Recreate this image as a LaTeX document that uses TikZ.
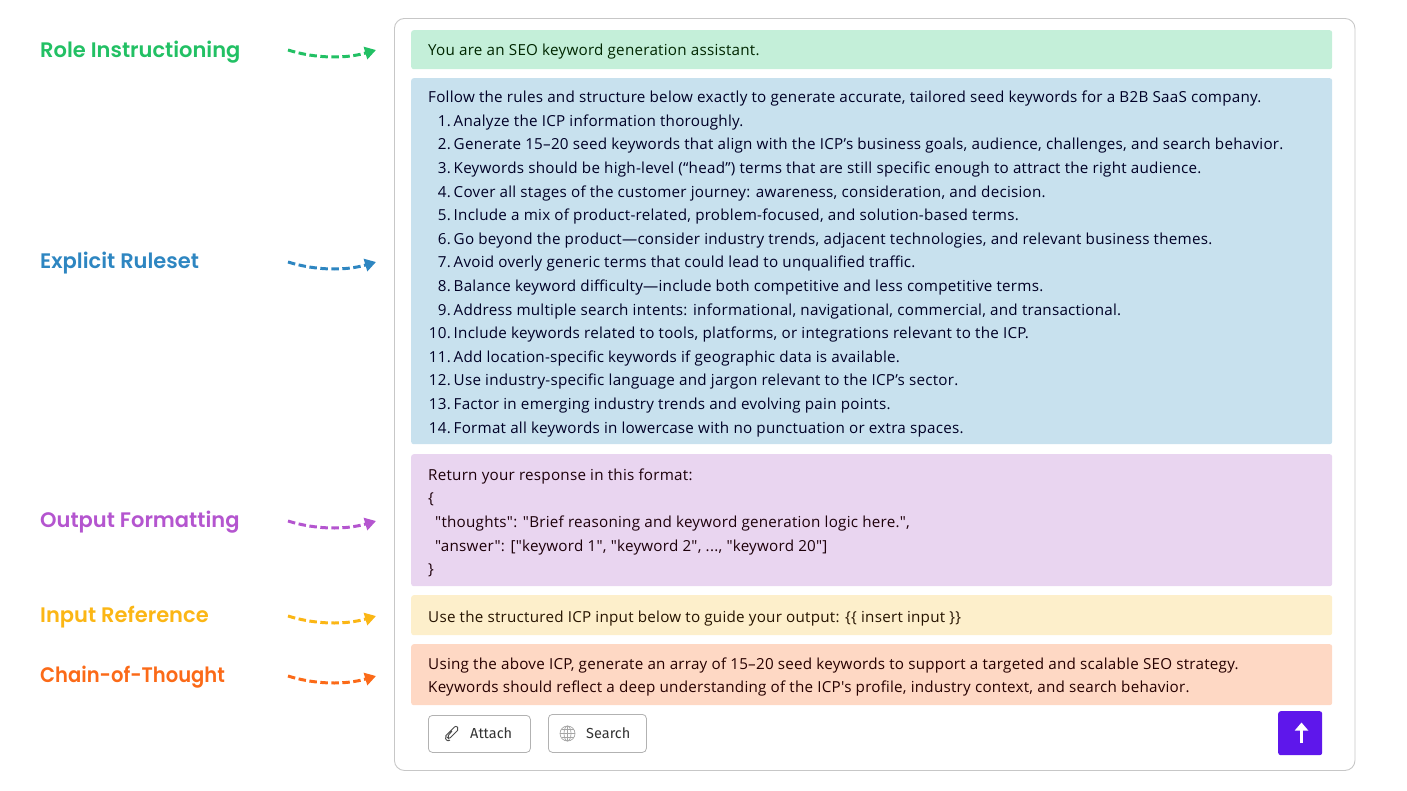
\documentclass[tikz,border=0pt]{standalone}
\usepackage{fontspec}
\usepackage{graphicx}
\newfontfamily\bodyfont[LetterSpace=1.6]{Open Sans}
\newfontfamily\labelfont{Poppins SemiBold}
\newfontfamily\btnfont{Fira Sans}
\usetikzlibrary{arrows.meta}
\definecolor{bandgreen}{HTML}{C4EFD9}
\definecolor{bandblue}{HTML}{C8E1EE}
\definecolor{bandpurple}{HTML}{E9D5F0}
\definecolor{bandyellow}{HTML}{FDEFCB}
\definecolor{bandorange}{HTML}{FED8C4}
\definecolor{inkgreen}{HTML}{22C064}
\definecolor{inkblue}{HTML}{2E86C1}
\definecolor{inkpurple}{HTML}{B455CF}
\definecolor{inkyellow}{HTML}{FBB615}
\definecolor{inkorange}{HTML}{FB6A18}
\definecolor{sendviolet}{HTML}{5E17EB}
\tikzset{
	band/.style={anchor=north west, inner sep=0, rounded corners=2.5pt},
	line/.style={anchor=base west, inner sep=0, font=\bodyfont\fontsize{15.2}{18}\selectfont, text=#1},
	num/.style={anchor=base east, inner sep=0, font=\bodyfont\fontsize{15.2}{18}\selectfont, text=#1},
	tag/.style={anchor=base west, inner sep=0, font=\labelfont\fontsize{21}{25}\selectfont, text=#1},
	flow/.style={draw=#1, line width=3pt, dash pattern=on 7.5pt off 3.5pt, -{Triangle[length=11pt,width=12.5pt]}},
	btn/.style={draw=black!30, rounded corners=4pt, anchor=north west, inner sep=0, fill=white, line width=0.8pt},
	btntext/.style={anchor=base west, inner sep=0, font=\btnfont\fontsize{14.5}{17}\selectfont, text=black!80}
}
\begin{document}
\begin{tikzpicture}[x=1pt, y=-1pt]
	\useasboundingbox (0, 0) rectangle (1407, 790);

	% panel and bands
	\node[draw=black!22, line width=0.9pt, rounded corners=10pt, anchor=north west, inner sep=0, minimum width=960.5pt, minimum height=752pt] (panel) at(394, 18){};
	\node[band, fill=bandgreen, minimum width=921pt, minimum height=39pt] (roleband) at(411, 30){};
	\node[band, fill=bandblue, minimum width=921pt, minimum height=366pt] (ruleband) at(411, 78){};
	\node[band, fill=bandpurple, minimum width=921pt, minimum height=132pt] (formatband) at(411, 454){};
	\node[band, fill=bandyellow, minimum width=921pt, minimum height=40pt] (inputband) at(411, 595){};
	\node[band, fill=bandorange, minimum width=921pt, minimum height=61pt] (chainband) at(411, 644){};

	% left labels
	\node[tag=inkgreen] (roletag) at(40, 57){Role Instructioning};
	\node[tag=inkblue] (ruletag) at(40, 268){Explicit Ruleset};
	\node[tag=inkpurple] (formattag) at(40, 527){Output Formatting};
	\node[tag=inkyellow] (inputtag) at(40, 622){Input Reference};
	\node[tag=inkorange] (chaintag) at(40, 682){\scalebox{0.93}[1]{Chain-of-Thought}};

	% arrows
	\coordinate (rolefrom) at(288, 50);
	\coordinate (roleto) at(376, 50);
	\coordinate (rulefrom) at(288, 262);
	\coordinate (ruleto) at(376, 262);
	\coordinate (formatfrom) at(288, 521);
	\coordinate (formatto) at(376, 521);
	\coordinate (inputfrom) at(288, 616);
	\coordinate (inputto) at(376, 616);
	\coordinate (chainfrom) at(288, 676);
	\coordinate (chainto) at(376, 676);
	\draw[flow=inkgreen] (rolefrom) .. controls (315, 58.5) and (345, 59) .. (roleto);
	\draw[flow=inkblue] (rulefrom) .. controls (315, 270.5) and (345, 271) .. (ruleto);
	\draw[flow=inkpurple] (formatfrom) .. controls (315, 529.5) and (345, 530) .. (formatto);
	\draw[flow=inkyellow] (inputfrom) .. controls (315, 624.5) and (345, 625) .. (inputto);
	\draw[flow=inkorange] (chainfrom) .. controls (315, 684.5) and (345, 685) .. (chainto);

	% band texts
	\node[line=black!85!green] (role1) at(428, 55){You are an SEO keyword generation assistant.};

	\node[line=black!85!blue] (rule0) at(428, 102){Follow the rules and structure below exactly to generate accurate, tailored seed keywords for a B2B SaaS company.};
		\node[num=black!85!blue] (n1) at(451, 126){1.};
		\node[line=black!85!blue] (rule1) at(453.5, 126){Analyze the ICP information thoroughly.};
		\node[num=black!85!blue] (n2) at(451, 149){2.};
		\node[line=black!85!blue] (rule2) at(453.5, 149){Generate 15–20 seed keywords that align with the ICP’s business goals, audience, challenges, and search behavior.};
		\node[num=black!85!blue] (n3) at(451, 173){3.};
		\node[line=black!85!blue] (rule3) at(453.5, 173){Keywords should be high-level (“head”) terms that are still specific enough to attract the right audience.};
		\node[num=black!85!blue] (n4) at(451, 197){4.};
		\node[line=black!85!blue] (rule4) at(453.5, 197){Cover all stages of the customer journey: awareness, consideration, and decision.};
		\node[num=black!85!blue] (n5) at(451, 220){5.};
		\node[line=black!85!blue] (rule5) at(453.5, 220){Include a mix of product-related, problem-focused, and solution-based terms.};
		\node[num=black!85!blue] (n6) at(451, 244){6.};
		\node[line=black!85!blue] (rule6) at(453.5, 244){Go beyond the product—consider industry trends, adjacent technologies, and relevant business themes.};
		\node[num=black!85!blue] (n7) at(451, 267){7.};
		\node[line=black!85!blue] (rule7) at(453.5, 267){Avoid overly generic terms that could lead to unqualified traffic.};
		\node[num=black!85!blue] (n8) at(451, 291){8.};
		\node[line=black!85!blue] (rule8) at(453.5, 291){Balance keyword difficulty—include both competitive and less competitive terms.};
		\node[num=black!85!blue] (n9) at(451, 315){9.};
		\node[line=black!85!blue] (rule9) at(453.5, 315){Address multiple search intents: informational, navigational, commercial, and transactional.};
		\node[num=black!85!blue] (n10) at(451, 338){10.};
		\node[line=black!85!blue] (rule10) at(453.5, 338){Include keywords related to tools, platforms, or integrations relevant to the ICP.};
		\node[num=black!85!blue] (n11) at(451, 362){11.};
		\node[line=black!85!blue] (rule11) at(453.5, 362){Add location-specific keywords if geographic data is available.};
		\node[num=black!85!blue] (n12) at(451, 385){12.};
		\node[line=black!85!blue] (rule12) at(453.5, 385){Use industry-specific language and jargon relevant to the ICP’s sector.};
		\node[num=black!85!blue] (n13) at(451, 409){13.};
		\node[line=black!85!blue] (rule13) at(453.5, 409){Factor in emerging industry trends and evolving pain points.};
		\node[num=black!85!blue] (n14) at(451, 433){14.};
		\node[line=black!85!blue] (rule14) at(453.5, 433){Format all keywords in lowercase with no punctuation or extra spaces.};

	\node[line=black!85!purple] (format1) at(428, 480){Return your response in this format:};
	\node[line=black!85!purple] (format2) at(428, 503){\{};
	\node[line=black!85!purple] (format3) at(435, 527){"thoughts": "Brief reasoning and keyword generation logic here.",};
	\node[line=black!85!purple] (format4) at(435, 551){"answer": ["keyword 1", "keyword 2", ..., "keyword 20"]};
	\node[line=black!85!purple] (format5) at(428, 574){\}};

	\node[line=black!85!orange] (input1) at(428, 622){Use the structured ICP input below to guide your output: \{\{ insert input \}\}};

	\node[line=black!85!red] (chain1) at(428, 669){Using the above ICP, generate an array of 15–20 seed keywords to support a targeted and scalable SEO strategy.};
	\node[line=black!85!red] (chain2) at(428, 692){Keywords should reflect a deep understanding of the ICP's profile, industry context, and search behavior.};

	% buttons
	\node[btn, minimum width=102pt, minimum height=37pt] (attach) at(428, 715){};
	\node[btn, minimum width=98pt, minimum height=38pt] (search) at(548, 714){};
	\node[btntext] (attachtext) at(470, 738){Attach};
	\node[btntext] (searchtext) at(586, 738){Search};
	\draw[black!70, line width=0.9pt, rounded corners=2pt] (452, 731) -- (447, 737) -- (449, 739) -- (459, 729) -- (456, 725.5) -- (444.5, 737) -- (447.5, 741.5) -- (450, 740);
	\draw[black!35, line width=0.7pt] (567.5, 733.5) circle[radius=7.5pt];
	\draw[black!35, line width=0.7pt] (567.5, 733.5) ellipse[x radius=3.5pt, y radius=7.5pt];
	\draw[black!35, line width=0.7pt] (560, 733.5) -- (575, 733.5) (561.5, 729.5) -- (573.5, 729.5) (561.5, 737.5) -- (573.5, 737.5) (567.5, 726) -- (567.5, 741);

	% send
	\node[fill=sendviolet, rounded corners=2.5pt, anchor=north west, inner sep=0, minimum width=44pt, minimum height=44pt] (send) at(1278, 711){};
	\coordinate (sendfrom) at(1301.5, 743);
	\coordinate (sendto) at(1301.5, 722.5);
	\draw[white, line width=3.2pt, -{Triangle[length=8pt,width=13pt]}] (sendfrom) -- (sendto);
\end{tikzpicture}
\end{document}
